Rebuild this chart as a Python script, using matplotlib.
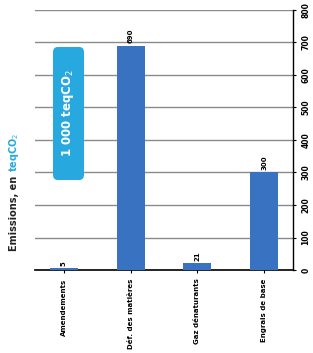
import matplotlib
matplotlib.use("Agg")
import matplotlib.pyplot as plt
from matplotlib.patches import FancyBboxPatch

categories = ["Amendements", "Déf. des matières", "Gaz dénaturants", "Engrais de base"]
values = [5, 690, 21, 300]
value_labels = ["5", "690", "21", "300"]
ticks = [0, 100, 200, 300, 400, 500, 600, 700, 800]

bar_color = "#3A72C2"
cyan = "#27A9DF"

fig = plt.figure(figsize=(3.13, 3.53), dpi=100)
ax = fig.add_axes([0.112, 0.235, 0.824, 0.737])

x = list(range(len(categories)))
ax.bar(x, values, width=0.42, color=bar_color, zorder=3)
ax.set_xlim(-0.43, 3.43)
ax.set_ylim(0, 800)
ax.set_yticks(ticks)
ax.yaxis.tick_right()
ax.set_yticklabels([str(t) for t in ticks], rotation=90, va="center", fontsize=5.5, fontweight="bold")
ax.tick_params(axis="y", length=2, pad=4)
ax.set_xticks(x)
ax.set_xticklabels(categories, rotation=90, fontsize=5, fontweight="bold")
ax.tick_params(axis="x", length=2, pad=4)
ax.grid(axis="y", color="#8a8a8a", linewidth=1.0, zorder=0)
for s in ["left", "top"]:
    ax.spines[s].set_visible(False)
ax.spines["right"].set_linewidth(1.0)
ax.spines["bottom"].set_linewidth(1.2)

for xi, v, lab in zip(x, values, value_labels):
    ax.text(xi, v + 8, lab, rotation=90, ha="center", va="bottom", fontsize=5, fontweight="bold", zorder=4)

# cyan rounded box with total
box = FancyBboxPatch((53 / 313, 1 - 180 / 353), 31 / 313, 133 / 353,
                     boxstyle="round,pad=0,rounding_size=0.015",
                     transform=fig.transFigure, facecolor=cyan, edgecolor="none", zorder=5)
fig.patches.append(box)
fig.text(68.5 / 313, 1 - 113 / 353, "1 000 teqCO$_2$", rotation=90, ha="center", va="center",
         color="white", fontsize=8.5, fontweight="bold", zorder=6)

fig.text(14 / 313, 1 - 213 / 353, "Emissions, en", rotation=90, ha="center", va="center",
         fontsize=7, fontweight="bold", color="#222222")
fig.text(14 / 313, 1 - 152 / 353, "teqCO$_2$", rotation=90, ha="center", va="center",
         fontsize=7, fontweight="bold", color=cyan)

fig.savefig("out.png", dpi=100)
